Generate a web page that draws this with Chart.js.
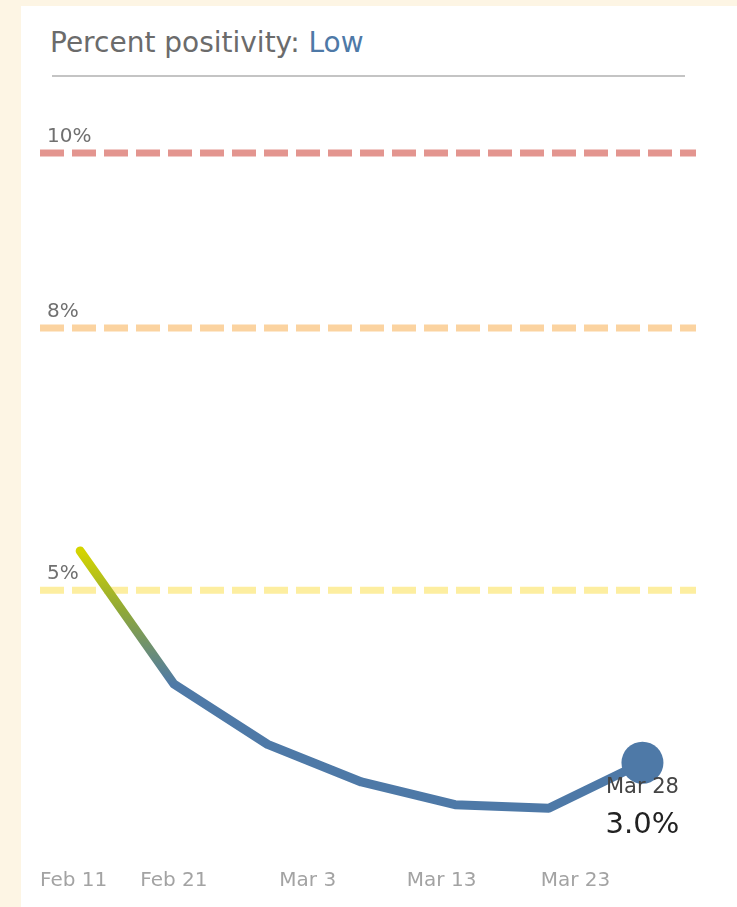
<!DOCTYPE html>
<html>
<head>
<meta charset="utf-8">
<script src="https://cdn.jsdelivr.net/npm/chart.js@4.4.1/dist/chart.umd.min.js"></script>
<style>
  html, body { margin: 0; padding: 0; }
  body { width: 737px; height: 907px; background: #fdf5e4; position: relative; overflow: hidden; }
  .panel { position: absolute; left: 21px; top: 6px; width: 716px; height: 901px; background: #fff; }
  .title { position: absolute; left: 50px; top: 29px; font-family: "DejaVu Sans", sans-serif; font-size: 28px; line-height: 28px; color: #6b6b6b; white-space: nowrap; }
  .title span { color: #4e79a7; }
  .rule { position: absolute; left: 52px; top: 75px; width: 633px; height: 2px; background: #c4c4c4; }
  #chart { position: absolute; left: 0; top: 0; }
</style>
</head>
<body>
<div class="panel"></div>
<div class="title">Percent positivity: <span>Low</span></div>
<div class="rule"></div>
<canvas id="chart" width="737" height="911"></canvas>
<script>
// days counted from Feb 11
const weekDays = [3, 10, 17, 24, 31, 38, 45]
const weekLabels = ['Feb 14', 'Feb 21', 'Feb 28', 'Mar 7', 'Mar 14', 'Mar 21', 'Mar 28']
const positivity = [5.45, 3.93, 3.24, 2.81, 2.55, 2.51, 3.03]

const tickDays = [0, 10, 20, 30, 40]
const tickLabels = ['Feb 11', 'Feb 21', 'Mar 3', 'Mar 13', 'Mar 23']

const thresholds = [10, 8, 5]
const thresholdLabels = ['10%', '8%', '5%']
const thresholdColors = ['#e3958f', '#fbd3a0', '#fdeea0']

const blue = '#4e79a7'
const last = positivity.length - 1

const thresholdLines = {
  id: 'thresholdLines',
  beforeDatasetsDraw(chart) {
    const { ctx, chartArea, scales } = chart
    ctx.save()
    thresholds.forEach((t, i) => {
      const y = scales.y.getPixelForValue(t)
      ctx.beginPath()
      ctx.setLineDash([24, 8])
      ctx.lineWidth = 7
      ctx.strokeStyle = thresholdColors[i]
      ctx.moveTo(chartArea.left, y)
      ctx.lineTo(chartArea.right, y)
      ctx.stroke()
      ctx.setLineDash([])
      ctx.fillStyle = '#707070'
      ctx.font = '20px "DejaVu Sans"'
      ctx.textBaseline = 'alphabetic'
      ctx.textAlign = 'left'
      ctx.fillText(thresholdLabels[i], chartArea.left + 7, y - 11)
    })
    ctx.restore()
  }
}

const lastLabel = {
  id: 'lastLabel',
  afterDatasetsDraw(chart) {
    const { ctx, scales } = chart
    const x = scales.x.getPixelForValue(weekDays[last])
    const y = scales.y.getPixelForValue(positivity[last])
    ctx.save()
    ctx.textAlign = 'center'
    ctx.textBaseline = 'middle'
    ctx.fillStyle = '#444'
    ctx.font = '21px "DejaVu Sans"'
    ctx.fillText(weekLabels[last], x, y + 25)
    ctx.fillStyle = '#222'
    ctx.font = '29px "DejaVu Sans"'
    ctx.fillText(positivity[last].toFixed(1) + '%', x, y + 63)
    ctx.restore()
  }
}

new Chart(document.getElementById('chart'), {
  type: 'line',
  data: {
    datasets: [{
      data: weekDays.map((d, i) => ({ x: d, y: positivity[i] })),
      borderWidth: 9,
      borderCapStyle: 'round',
      borderJoinStyle: 'round',
      tension: 0,
      borderColor: (c) => {
        const { chart } = c
        if (!chart.chartArea) return blue
        const y0 = chart.scales.y.getPixelForValue(positivity[0])
        const y1 = chart.scales.y.getPixelForValue(positivity[1])
        const g = chart.ctx.createLinearGradient(0, y0, 0, y1)
        g.addColorStop(0, '#d4d400')
        g.addColorStop(0.45, '#8fa838')
        g.addColorStop(1, blue)
        return g
      },
      pointRadius: (c) => c.dataIndex === last ? 21 : 0,
      pointHoverRadius: (c) => c.dataIndex === last ? 21 : 0,
      pointBorderWidth: 0,
      pointBackgroundColor: blue
    }]
  },
  options: {
    responsive: false,
    animation: false,
    layout: { padding: { left: 40, right: 41, top: 100, bottom: 0 } },
    plugins: { legend: { display: false }, tooltip: { enabled: false } },
    scales: {
      x: {
        type: 'linear',
        min: 0,
        max: 49,
        afterBuildTicks: (scale) => {
          scale.ticks = tickDays.map(v => ({ value: v })).concat([{ value: 49 }])
        },
        grid: { display: false, drawTicks: false },
        border: { display: false },
        ticks: {
          autoSkip: false,
          maxRotation: 0,
          align: 'inner',
          padding: 18,
          color: '#a3a3a3',
          font: { family: 'DejaVu Sans', size: 20 },
          callback: (v) => {
            const i = tickDays.indexOf(v)
            return i >= 0 ? tickLabels[i] : ''
          }
        }
      },
      y: {
        display: false,
        min: 2.021,
        max: 10.605
      }
    }
  },
  plugins: [thresholdLines, lastLabel]
})
</script>
</body>
</html>
